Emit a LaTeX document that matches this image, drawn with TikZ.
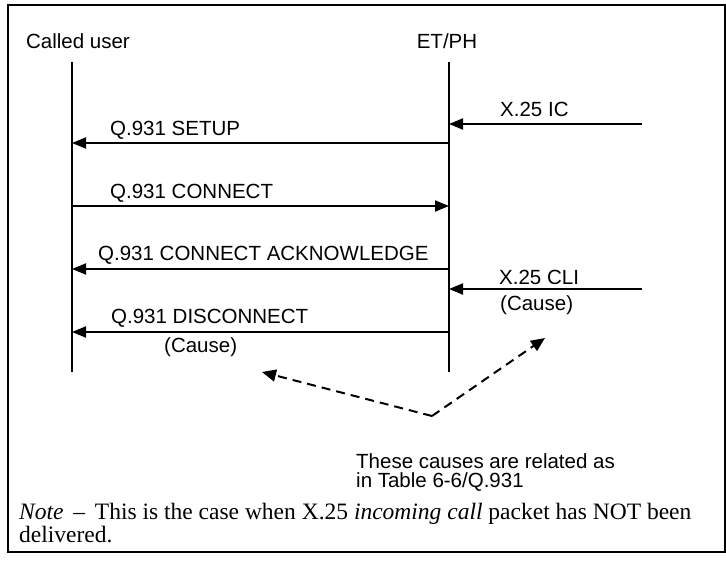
\documentclass[tikz,border=0pt]{standalone}
\usepackage{fontspec}
\setmainfont{Liberation Serif}
\setsansfont{Liberation Sans}
\usetikzlibrary{arrows.meta}
\begin{document}
\begin{tikzpicture}[x=1pt,y=-1pt,
  lbl/.style={font=\sffamily\fontsize{20.5}{21}\selectfont, inner sep=0pt, anchor=base west},
  hdr/.style={font=\sffamily\fontsize{20.5}{21}\selectfont, inner sep=0pt},
  life/.style={line width=2.6pt},
  msg/.style={line width=2pt, -{Triangle[length=14pt,width=11pt]}},
  rel/.style={line width=2pt, dash pattern=on 9pt off 6pt, -{Triangle[length=14pt,width=12pt]}}]
\useasboundingbox (0,0) rectangle (726,583);
\draw[line width=1.6pt] (8,5) rectangle (725,552);

% headers
\node[hdr] (cu) at (78,41) {Called user};
\node[hdr] (et) at (447,41) {ET/PH};

% lifelines
\coordinate (u1) at (72,62);  \coordinate (u2) at (72,372);
\coordinate (p1) at (449,62); \coordinate (p2) at (449,372);
\draw[life] (u1) -- (u2);
\draw[life] (p1) -- (p2);

% message end points
\coordinate (icR) at (642,124); \coordinate (icL) at (449,124);
\coordinate (suR) at (449,143); \coordinate (suL) at (72,143);
\coordinate (coL) at (72,206);  \coordinate (coR) at (449,206);
\coordinate (caR) at (449,269); \coordinate (caL) at (72,269);
\coordinate (clR) at (642,289); \coordinate (clL) at (449,289);
\coordinate (diR) at (449,332); \coordinate (diL) at (72,332);

\draw[msg] (icR) -- (icL);
\draw[msg] (suR) -- (suL);
\draw[msg] (coL) -- (coR);
\draw[msg] (caR) -- (caL);
\draw[msg] (clR) -- (clL);
\draw[msg] (diR) -- (diL);

% labels
\node[lbl] (tic) at (500,117) {X.25 IC};
\node[lbl] (tsu) at (110,136) {Q.931 SETUP};
\node[lbl] (tco) at (110,198) {Q.931 CONNECT};
\node[lbl] (tca) at (98,260) {Q.931 CONNECT ACKNOWLEDGE};
\node[lbl] (tcl) at (499,284) {X.25 CLI};
\node[lbl,anchor=west] (tc1) at (500,305) {(Cause)};
\node[lbl] (tdi) at (111,323) {Q.931 DISCONNECT};
\node[lbl,anchor=west] (tc2) at (164,347) {(Cause)};

% relation
\coordinate (v) at (432,416);
\coordinate (tl) at (262,372);
\coordinate (tr) at (545,338);
\draw[rel] (v) -- (tl);
\draw[rel] (v) -- (tr);
\node[lbl] (rel1) at (356,468) {These causes are related as};
\node[lbl] (rel2) at (356,487) {in Table 6-6/Q.931};

% note
\node[font=\rmfamily\fontsize{23.5}{23}\selectfont, inner sep=0pt, anchor=north west, align=left] (note) at (19,503)
  {\textit{Note} \,--\, This is the case when X.25 \textit{incoming call} packet has NOT been\\delivered.};
\end{tikzpicture}
\end{document}
